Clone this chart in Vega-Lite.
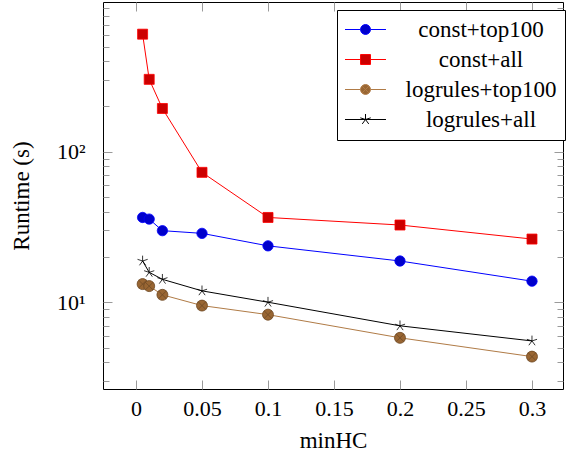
{
  "$schema": "https://vega.github.io/schema/vega-lite/v6.json",
  "width": 460,
  "height": 387,
  "autosize": {"type": "none"},
  "padding": {"left": 103, "top": 2, "right": 5, "bottom": 73},
  "background": "white",
  "config": {
    "view": {"stroke": "black", "strokeWidth": 1},
    "font": "Liberation Serif, serif",
    "axis": {
      "domain": false,
      "grid": false,
      "tickColor": "#9a9a9a",
      "tickWidth": 1,
      "labelFont": "Liberation Serif, serif",
      "labelFontSize": 22,
      "labelColor": "black",
      "titleFont": "Liberation Serif, serif",
      "titleFontSize": 23,
      "titleFontWeight": "normal",
      "titleColor": "black"
    }
  },
  "data": {
    "values": [
      {"series": "const+top100", "x": 0.005, "y": 36.6},
      {"series": "const+top100", "x": 0.01, "y": 35.7},
      {"series": "const+top100", "x": 0.02, "y": 29.9},
      {"series": "const+top100", "x": 0.05, "y": 28.7},
      {"series": "const+top100", "x": 0.1, "y": 23.7},
      {"series": "const+top100", "x": 0.2, "y": 18.8},
      {"series": "const+top100", "x": 0.3, "y": 13.8},
      {"series": "const+all", "x": 0.005, "y": 605},
      {"series": "const+all", "x": 0.01, "y": 303},
      {"series": "const+all", "x": 0.02, "y": 194},
      {"series": "const+all", "x": 0.05, "y": 73},
      {"series": "const+all", "x": 0.1, "y": 36.6},
      {"series": "const+all", "x": 0.2, "y": 32.6},
      {"series": "const+all", "x": 0.3, "y": 26.3},
      {"series": "logrules+top100", "x": 0.005, "y": 13.2},
      {"series": "logrules+top100", "x": 0.01, "y": 12.8},
      {"series": "logrules+top100", "x": 0.02, "y": 11.2},
      {"series": "logrules+top100", "x": 0.05, "y": 9.5},
      {"series": "logrules+top100", "x": 0.1, "y": 8.27},
      {"series": "logrules+top100", "x": 0.2, "y": 5.8},
      {"series": "logrules+top100", "x": 0.3, "y": 4.35},
      {"series": "logrules+all", "x": 0.005, "y": 18.8},
      {"series": "logrules+all", "x": 0.01, "y": 15.8},
      {"series": "logrules+all", "x": 0.02, "y": 14.2},
      {"series": "logrules+all", "x": 0.05, "y": 11.9},
      {"series": "logrules+all", "x": 0.1, "y": 10.0},
      {"series": "logrules+all", "x": 0.2, "y": 6.97},
      {"series": "logrules+all", "x": 0.3, "y": 5.53}
    ]
  },
  "layer": [
    {
      "mark": {"type": "line", "strokeWidth": 1},
      "encoding": {
        "x": {
          "field": "x", "type": "quantitative",
          "scale": {"domain": [-0.025, 0.3235], "nice": false, "zero": false},
          "axis": {
            "orient": "bottom",
            "title": "minHC",
            "values": [0, 0.05, 0.1, 0.15, 0.2, 0.25, 0.3],
            "labelExpr": "format(datum.value, '.2~f')",
            "tickSize": -9,
            "labelPadding": 18,
            "titlePadding": 10
          }
        },
        "y": {
          "field": "y", "type": "quantitative",
          "scale": {"type": "log", "domain": [2.65, 990], "nice": false},
          "axis": {
            "orient": "left",
            "title": "Runtime (s)",
            "values": [3,4,5,6,7,8,9,10,20,30,40,50,60,70,80,90,100,200,300,400,500,600,700,800,900],
            "labelExpr": "datum.value == 10 ? '10¹' : datum.value == 100 ? '10²' : ''",
            "tickSize": {"condition": {"test": "datum.value == 10 || datum.value == 100", "value": -9}, "value": -6},
            "labelPadding": 27,
            "titlePadding": 23
          }
        },
        "color": {
          "field": "series", "type": "nominal",
          "scale": {
            "domain": ["const+top100", "const+all", "logrules+top100", "logrules+all"],
            "range": ["#0000ff", "#ff0000", "#b07b46", "#000000"]
          },
          "legend": {
            "orient": "none",
            "legendX": 234,
            "legendY": 8,
            "title": null,
            "strokeColor": "black",
            "fillColor": "white",
            "padding": 8,
            "rowPadding": 6,
            "labelFont": "Liberation Serif, serif",
            "labelFontSize": 23,
            "labelColor": "black",
            "labelAlign": "center",
            "labelBaseline": "middle",
            "labelOffset": 113,
            "labelLimit": 400,
            "symbolSize": 121,
            "symbolStrokeWidth": 1,
            "encode": {
              "symbols": {
                "update": {
                  "x": {"value": 0},
                  "opacity": {"value": 1},
                  "shape": {"signal": "datum.value === 'const+top100' ? 'M0,0H2.83M4.63,0H7.45M4.63,0A0.9,0.9,0,1,1,2.83,0A0.9,0.9,0,1,1,4.63,0Z' : datum.value === 'const+all' ? 'M0,0H2.83M4.63,0H7.45M2.83,-0.9H4.63V0.9H2.83Z' : datum.value === 'logrules+top100' ? 'M0,0H2.83M4.63,0H7.45M4.63,0A0.9,0.9,0,1,1,2.83,0A0.9,0.9,0,1,1,4.63,0ZM3.094,-0.636L4.366,0.636M3.094,0.636L4.366,-0.636' : 'M0,0H7.45M3.73,0V-1M3.73,0L2.779,-0.309M3.73,0L3.142,0.809M3.73,0L4.318,0.809M3.73,0L4.681,-0.309'"},
                  "fill": {"signal": "datum.value === 'const+top100' ? '#0000cc' : datum.value === 'const+all' ? '#cc0000' : datum.value === 'logrules+top100' ? '#996633' : 'transparent'"}
                }
              }
            }
          }
        }
      }
    },
    {
      "mark": {"type": "point", "filled": true, "opacity": 1, "strokeWidth": 0.8},
      "encoding": {
        "x": {
          "field": "x", "type": "quantitative",
          "axis": {
            "orient": "top",
            "title": null,
            "labels": false,
            "values": [0, 0.05, 0.1, 0.15, 0.2, 0.25, 0.3],
            "tickSize": -9
          }
        },
        "y": {
          "field": "y", "type": "quantitative",
          "axis": {
            "orient": "right",
            "title": null,
            "labels": false,
            "values": [3,4,5,6,7,8,9,10,20,30,40,50,60,70,80,90,100,200,300,400,500,600,700,800,900],
            "tickSize": {"condition": {"test": "datum.value == 10 || datum.value == 100", "value": -9}, "value": -6}
          }
        },
        "shape": {
          "field": "series", "type": "nominal",
          "scale": {
            "range": ["square", "circle", "M0,0L0,-1M0,0L-0.951,-0.309M0,0L-0.588,0.809M0,0L0.588,0.809M0,0L0.951,-0.309", "M1,0A1,1,0,1,1,-1,0A1,1,0,1,1,1,0ZM-0.707,-0.707L0.707,0.707M-0.707,0.707L0.707,-0.707"]
          },
          "legend": null
        },
        "size": {
          "field": "series", "type": "nominal",
          "scale": {"range": [100, 121, 100, 121]},
          "legend": null
        },
        "fill": {
          "field": "series", "type": "nominal",
          "scale": {"range": ["#cc0000", "#0000cc", "#000000", "#996633"]},
          "legend": null
        },
        "stroke": {
          "field": "series", "type": "nominal",
          "scale": {"range": ["#ff0000", "#0000ff", "#000000", "#6e4a26"]},
          "legend": null
        }
      }
    }
  ],
  "resolve": {"axis": {"x": "independent", "y": "independent"}}
}
